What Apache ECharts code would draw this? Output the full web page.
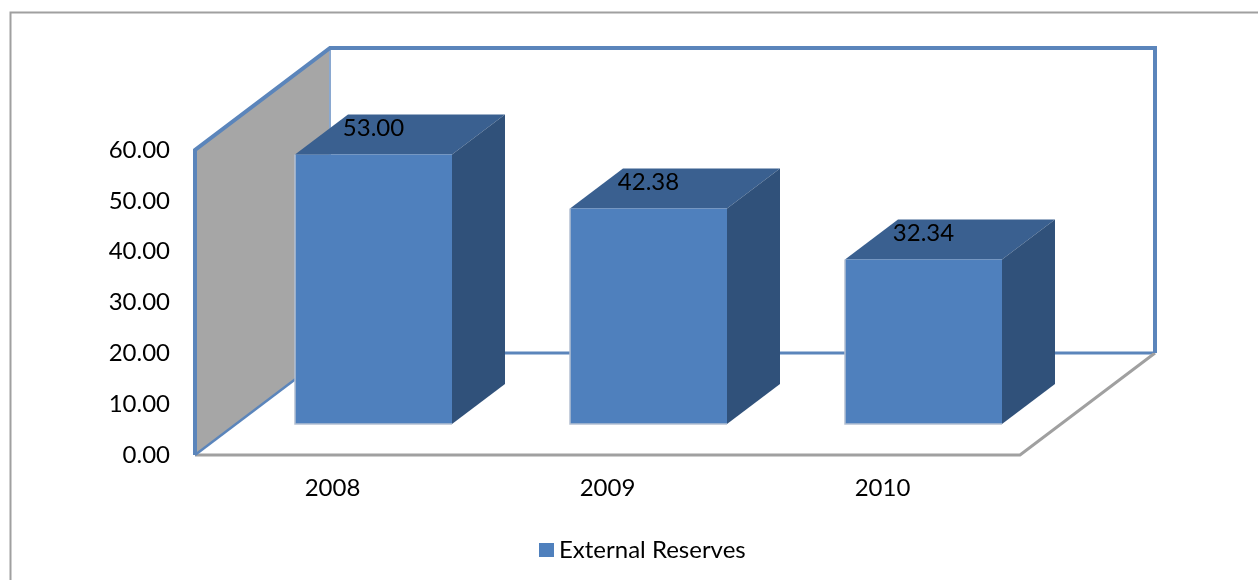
<!DOCTYPE html>
<html>
<head>
<meta charset="utf-8">
<title>External Reserves</title>
<script src="https://cdn.jsdelivr.net/npm/echarts@6/dist/echarts.min.js"></script>
<style>
  html, body { margin: 0; background: #fff; }
  #chart { width: 1258px; height: 580px; }
</style>
</head>
<body>
<div id="chart"></div>
<script>
const years = ["2008", "2009", "2010"];
const reserves = [53.00, 42.38, 32.34];
const seriesName = "External Reserves";

const FONT = "Lato, sans-serif";
const FONT_SIZE = 24;
const FACE = "#4f80bd";
const TOP_FACE = "#3a6090";
const SIDE_FACE = "#30517a";
const WALL_LINE = "#5b85bb";
const FLOOR_LINE = "#a0a0a0";

// oblique projection, pixels
const ROOM_DX = 135, ROOM_DY = -102;
const BAR_DX = 53, BAR_DY = -40;
const BAR_W = 157;

// walls and floor, sized from the grid so they follow the axis
function renderRoom(params) {
  const g = params.coordSys;
  const l = g.x, r = g.x + g.width, t = g.y, b = g.y + g.height;
  const bl = l + ROOM_DX, br = r + ROOM_DX, bt = t + ROOM_DY, bb = b + ROOM_DY;
  const line = (pts, color, width) => ({
    type: "polyline",
    shape: { points: pts },
    style: { fill: null, stroke: color, lineWidth: width, lineJoin: "miter" },
  });
  return {
    type: "group",
    children: [
      { type: "polygon", shape: { points: [[l, t], [bl, bt], [bl, bb], [l, b]] }, style: { fill: "#a6a6a6" } },
      line([[bl, bt], [bl, bb]], "#8aa8d0", 2),
      line([[bl, bb], [br, bb]], WALL_LINE, 3),
      line([[l, b], [r, b], [br, bb]], FLOOR_LINE, 3),
      line([[l, b], [bl, bb]], WALL_LINE, 2.5),
      line([[l, b], [l, t], [bl, bt], [br, bt], [br, bb]], WALL_LINE, 4),
    ],
  };
}

function renderBar(params, api) {
  const i = api.value(0);
  const v = api.value(1);
  const base = api.coord([i, 0]);
  const top = api.coord([i, v]);
  // bars stand mid way into the floor depth
  const shiftX = (ROOM_DX - BAR_DX) / 2, shiftY = (ROOM_DY - BAR_DY) / 2;
  const x0 = base[0] + shiftX - BAR_W / 2, x1 = x0 + BAR_W;
  const y0 = top[1] + shiftY, y1 = base[1] + shiftY;
  return {
    type: "group",
    children: [
      {
        type: "polygon",
        shape: { points: [[x0, y0], [x1, y0], [x1 + BAR_DX, y0 + BAR_DY], [x0 + BAR_DX, y0 + BAR_DY]] },
        style: { fill: TOP_FACE },
      },
      {
        type: "polygon",
        shape: { points: [[x1, y0], [x1 + BAR_DX, y0 + BAR_DY], [x1 + BAR_DX, y1 + BAR_DY], [x1, y1]] },
        style: { fill: SIDE_FACE },
      },
      {
        type: "rect",
        shape: { x: x0, y: y0, width: BAR_W, height: y1 - y0 },
        style: { fill: FACE },
      },
      {
        type: "polyline",
        shape: { points: [[x0, y0], [x0, y1], [x1, y1]] },
        style: { fill: null, stroke: "#b4c0d2", lineWidth: 1.5 },
      },
      {
        type: "text",
        x: (x0 + x1) / 2,
        y: y0 + BAR_DY / 2 - 6,
        style: {
          text: v.toFixed(2),
          fill: "#000",
          font: FONT_SIZE + "px " + FONT,
          textAlign: "center",
          textVerticalAlign: "middle",
        },
      },
    ],
  };
}

const chart = echarts.init(document.getElementById("chart"), null, { renderer: "canvas" });
chart.setOption({
  animation: false,
  backgroundColor: "#fff",
  textStyle: { fontFamily: FONT },
  grid: { left: 195, top: 150, width: 825, height: 305, containLabel: false },
  xAxis: {
    type: "category",
    data: years,
    axisLine: { show: false },
    axisTick: { show: false },
    axisLabel: { color: "#000", fontSize: FONT_SIZE, fontFamily: FONT, margin: 21 },
  },
  yAxis: {
    type: "value",
    min: 0,
    max: 60,
    interval: 10,
    axisLine: { show: false },
    axisTick: { show: false },
    splitLine: { show: false },
    axisLabel: {
      color: "#000",
      fontSize: FONT_SIZE,
      fontFamily: FONT,
      margin: 25,
      padding: [4, 0, 0, 0],
      formatter: (v) => v.toFixed(2),
    },
  },
  legend: {
    data: [seriesName],
    left: 539,
    top: 538,
    itemWidth: 15,
    itemHeight: 14,
    itemGap: 7,
    icon: "rect",
    textStyle: { color: "#000", fontSize: FONT_SIZE, fontFamily: FONT },
    padding: 0,
  },
  graphic: [
    {
      type: "polyline",
      shape: { points: [[10.5, 580], [10.5, 12.5], [1258, 12.5]] },
      style: { fill: null, stroke: FLOOR_LINE, lineWidth: 2 },
    },
  ],
  series: [
    {
      type: "custom",
      renderItem: renderRoom,
      data: [[0, 0]],
      silent: true,
      z: 1,
    },
    {
      name: seriesName,
      type: "custom",
      renderItem: renderBar,
      encode: { x: 0, y: 1 },
      data: reserves.map((v, i) => [i, v]),
      itemStyle: { color: FACE },
      z: 2,
    },
  ],
});
</script>
</body>
</html>
